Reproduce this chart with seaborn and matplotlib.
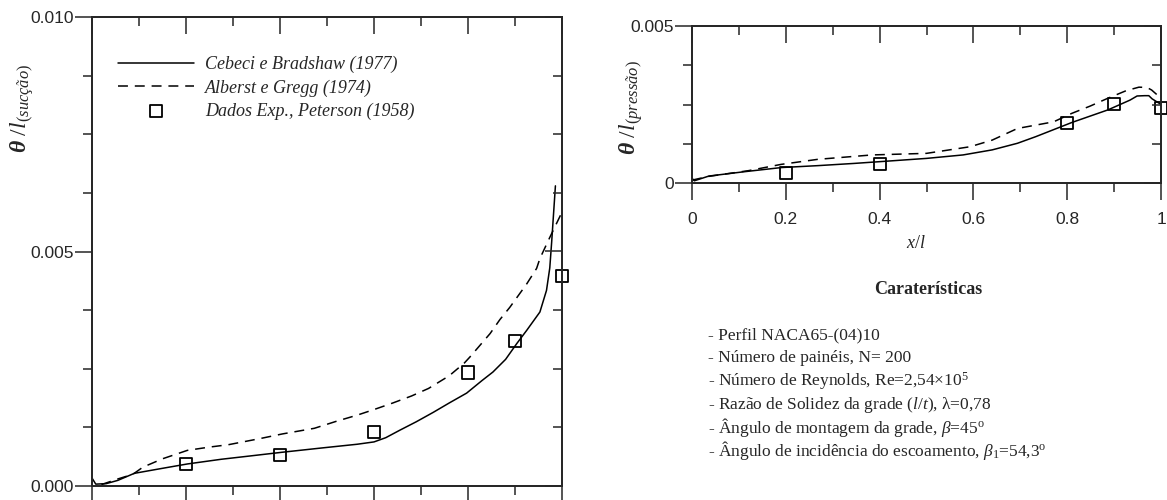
import numpy as np
import pandas as pd
import matplotlib
matplotlib.use('Agg')
import matplotlib.pyplot as plt
import seaborn as sns
from matplotlib.ticker import MultipleLocator

# ---------------------------------------------------------
# Data
# ---------------------------------------------------------
# suction side (left panel)
suc_cebeci_x = [0.000, 0.008, 0.030, 0.055, 0.090, 0.146, 0.203, 0.275, 0.336, 0.405,
                0.488, 0.564, 0.600, 0.625, 0.655, 0.690, 0.726, 0.760, 0.797, 0.830,
                0.853, 0.880, 0.904, 0.925, 0.953, 0.967, 0.974, 0.978, 0.982, 0.986]
suc_cebeci_y = [0.00017, 0.00004, 0.00005, 0.00012, 0.00027, 0.00037, 0.00047, 0.00057, 0.00064, 0.00072,
                0.00081, 0.00089, 0.00094, 0.00103, 0.00119, 0.00137, 0.00157, 0.00177, 0.00198, 0.00225,
                0.00243, 0.00270, 0.00304, 0.00332, 0.00371, 0.00417, 0.00465, 0.00520, 0.00580, 0.00640]

suc_alberst_x = [0.020, 0.055, 0.087, 0.108, 0.150, 0.203, 0.250, 0.290, 0.357, 0.405,
                 0.473, 0.520, 0.564, 0.600, 0.640, 0.680, 0.716, 0.760, 0.792, 0.804,
                 0.847, 0.868, 0.889, 0.925, 0.946, 0.953, 0.974, 1.000]
suc_alberst_y = [0.00003, 0.00015, 0.00025, 0.00040, 0.00058, 0.00076, 0.00083, 0.00088, 0.00101, 0.00111,
                 0.00123, 0.00138, 0.00151, 0.00163, 0.00177, 0.00192, 0.00208, 0.00235, 0.00262, 0.00275,
                 0.00325, 0.00355, 0.00381, 0.00431, 0.00464, 0.00485, 0.00530, 0.00584]

suc_exp_x = [0.2, 0.4, 0.6, 0.8, 0.9, 1.0]
suc_exp_y = [0.00047, 0.00066, 0.00116, 0.00242, 0.00310, 0.00447]

# pressure side (right panel)
pre_cebeci_x = [0.000, 0.005, 0.036, 0.113, 0.191, 0.268, 0.345, 0.423, 0.500, 0.578,
                0.640, 0.694, 0.733, 0.810, 0.887, 0.934, 0.949, 0.965, 0.974, 0.981,
                0.996, 1.000]
pre_cebeci_y = [0.00016, 0.00008, 0.00023, 0.00037, 0.00050, 0.00056, 0.00063, 0.00071, 0.00079, 0.00090,
                0.00106, 0.00127, 0.00148, 0.00193, 0.00233, 0.00264, 0.00277, 0.00278, 0.00278, 0.00268,
                0.00254, 0.00250]

pre_alberst_x = [0.000, 0.036, 0.120, 0.190, 0.268, 0.384, 0.500, 0.593, 0.640, 0.694,
                 0.771, 0.810, 0.849, 0.887, 0.926, 0.953, 0.970, 0.980, 0.996]
pre_alberst_y = [0.00010, 0.00022, 0.00040, 0.00060, 0.00076, 0.00090, 0.00095, 0.00116, 0.00137, 0.00174,
                 0.00195, 0.00222, 0.00245, 0.00270, 0.00294, 0.00305, 0.00304, 0.00296, 0.00275]

pre_exp_x = [0.2, 0.4, 0.8, 0.9, 1.0]
pre_exp_y = [0.00032, 0.00060, 0.00192, 0.00251, 0.00240]

legend_labels = ['Cebeci e Bradshaw (1977)', 'Alberst e Gregg (1974)', 'Dados Exp., Peterson (1958)']

x_ticks = [0, 0.2, 0.4, 0.6, 0.8, 1.0]
x_ticklabels = ['0', '0.2', '0.4', '0.6', '0.8', '1']
suc_yticks = [0.0, 0.005, 0.010]
suc_yticklabels = ['0.000', '0.005', '0.010']
pre_yticks = [0.0, 0.005]
pre_yticklabels = ['0', '0.005']

info_title = 'Caraterísticas'
info_lines = [
    '- Perfil NACA65-(04)10',
    '- Número de painéis, N= 200',
    r'- Número de Reynolds, Re=2,54$\times$10$^{5}$',
    r'- Razão de Solidez da grade ($\mathit{l/t}$), λ=0,78',
    r'- Ângulo de montagem da grade, $\beta$=45$^{\mathrm{o}}$',
    r'- Ângulo de incidência do escoamento, $\beta_{1}$=54,3$^{\mathrm{o}}$',
]

# ---------------------------------------------------------
# Style
# ---------------------------------------------------------
sns.set_style('ticks')
plt.rcParams['font.family'] = ['Liberation Sans', 'DejaVu Sans']
plt.rcParams.update({
    'mathtext.fontset': 'custom',
    'mathtext.rm': 'Liberation Serif',
    'mathtext.it': 'Liberation Serif:italic',
    'mathtext.bf': 'Liberation Serif:bold:italic',
    'axes.linewidth': 1.1,
})
SERIF = 'Liberation Serif'
W, H = 1167, 500

fig = plt.figure(figsize=(W / 100, H / 100), dpi=100)


def px_axes(left, top, right, bottom):
    return fig.add_axes([left / W, 1 - bottom / H, (right - left) / W, (bottom - top) / H])


def draw_panel(ax, cx, cy, ax_, ay_, ex, ey):
    sns.lineplot(x=cx, y=cy, ax=ax, color='black', lw=1.1, sort=False,
                 estimator=None, label=legend_labels[0])
    sns.lineplot(x=ax_, y=ay_, ax=ax, color='black', lw=1.1, sort=False,
                 estimator=None, label=legend_labels[1])
    ax.lines[-1].set_dashes((6.5, 4.5))
    sns.scatterplot(x=ex, y=ey, ax=ax, marker='s', s=75, facecolors='none',
                    edgecolor='black', linewidth=1.3, clip_on=False, zorder=5,
                    label=legend_labels[2])


def style_panel(ax, ymax, yticks, yticklabels, show_xlabels):
    ax.set_xlim(0, 1)
    ax.set_ylim(0, ymax)
    ax.set_xticks(x_ticks)
    ax.set_xticklabels(x_ticklabels if show_xlabels else [])
    ax.xaxis.set_minor_locator(MultipleLocator(0.1))
    ax.set_yticks(yticks)
    ax.set_yticklabels(yticklabels)
    ax.yaxis.set_minor_locator(MultipleLocator(0.00125))
    ax.tick_params(which='both', direction='out', width=1.1, labelsize=12.5,
                   top=False, right=False)
    ax.tick_params(which='major', length=12)
    ax.tick_params(which='minor', length=6.5)
    ax.tick_params(axis='y', pad=1)
    ax.tick_params(axis='x', pad=9)
    ax.set_xlabel('')
    ax.set_ylabel('')
    for s in ax.spines.values():
        s.set_visible(True)
        s.set_linewidth(1.1)

    # inward ticks on top and right
    axr = ax.twinx()
    axr.set_ylim(0, ymax)
    axr.set_yticks(yticks)
    axr.yaxis.set_minor_locator(MultipleLocator(0.00125))
    axr.tick_params(which='both', direction='in', width=1.1, labelright=False)
    axr.tick_params(which='major', length=12)
    axr.tick_params(which='minor', length=6.5)
    axt = ax.twiny()
    axt.set_xlim(0, 1)
    axt.set_xticks(x_ticks)
    axt.xaxis.set_minor_locator(MultipleLocator(0.1))
    axt.tick_params(which='both', direction='in', width=1.1, labeltop=False)
    axt.tick_params(which='major', length=12)
    axt.tick_params(which='minor', length=6.5)


# ---------------------------------------------------------
# Left panel: suction side
# ---------------------------------------------------------
ax_s = px_axes(92, 17, 562, 486)
draw_panel(ax_s, suc_cebeci_x, suc_cebeci_y, suc_alberst_x, suc_alberst_y, suc_exp_x, suc_exp_y)
handles, labels = ax_s.get_legend_handles_labels()
ax_s.legend(handles, labels, loc='upper left', bbox_to_anchor=(0.055, 0.917),
            frameon=False, borderpad=0, borderaxespad=0, handlelength=4.2,
            handletextpad=0.65, labelspacing=0.33,
            prop={'family': SERIF, 'style': 'italic', 'size': 13})
style_panel(ax_s, 0.010, suc_yticks, suc_yticklabels, False)

fig.text(22 / W, 1 - 108 / H, r'$\mathbf{\theta}\ /l_{(\mathit{sucção})}$',
         rotation=90, ha='center', va='center', fontsize=17)

# ---------------------------------------------------------
# Right panel: pressure side
# ---------------------------------------------------------
ax_p = px_axes(692, 25.7, 1161, 183.3)
draw_panel(ax_p, pre_cebeci_x, pre_cebeci_y, pre_alberst_x, pre_alberst_y, pre_exp_x, pre_exp_y)
ax_p.get_legend().remove()
style_panel(ax_p, 0.005, pre_yticks, pre_yticklabels, True)

fig.text(631 / W, 1 - 108 / H, r'$\mathbf{\theta}\ /l_{(\mathit{pressão})}$',
         rotation=90, ha='center', va='center', fontsize=17)
fig.text(916 / W, 1 - 243 / H, r'$\mathit{x/l}$', ha='center', va='center', fontsize=13)

# ---------------------------------------------------------
# Characteristics block
# ---------------------------------------------------------
fig.text(928 / W, 1 - 290 / H, info_title, ha='center', va='center',
         fontsize=13, fontweight='bold', family=SERIF)
for i, line in enumerate(info_lines):
    fig.text(708 / W, 1 - (335 + 23.2 * i) / H, line, ha='left', va='center',
             fontsize=12.5, family=SERIF)

fig.savefig('out.png', dpi=100)
